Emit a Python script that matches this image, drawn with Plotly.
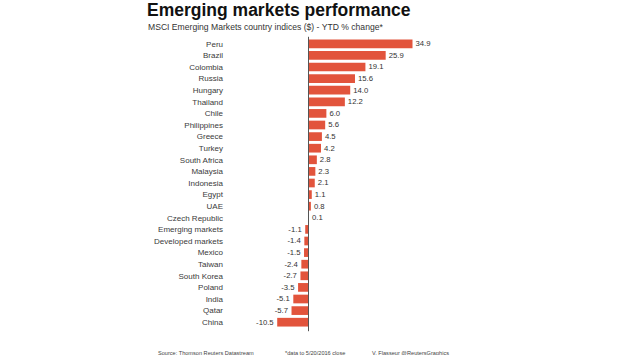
import plotly.graph_objects as go

countries = ["Peru", "Brazil", "Colombia", "Russia", "Hungary", "Thailand", "Chile",
             "Philippines", "Greece", "Turkey", "South Africa", "Malaysia", "Indonesia",
             "Egypt", "UAE", "Czech Republic", "Emerging markets", "Developed markets",
             "Mexico", "Taiwan", "South Korea", "Poland", "India", "Qatar", "China"]
values = [34.9, 25.9, 19.1, 15.6, 14.0, 12.2, 6.0, 5.6, 4.5, 4.2, 2.8, 2.3, 2.1,
          1.1, 0.8, 0.1, -1.1, -1.4, -1.5, -2.4, -2.7, -3.5, -5.1, -5.7, -10.5]
value_labels = ["%.1f" % v for v in values]

title = "Emerging markets performance"
subtitle = "MSCI Emerging Markets country indices ($) - YTD % change*"
footer = ["Source: Thomson Reuters Datastream", "*data to 5/20/2016 close",
          "V. Flasseur @ReutersGraphics"]

W, H = 620, 355
n = len(countries)
row = (322 - 44) / (n - 1)
top_px = 44 - row / 2
bot_px = 322 + row / 2
L = 232
R = 0
T = top_px
B = H - bot_px
zero_px = 308.5
scale = (412.5 - 308.5) / 34.9
xmin = (L - zero_px) / scale
xmax = (W - R - zero_px) / scale

pw = W - L - R
ph = H - T - B


def px(x):
    return (x - L) / pw


def py(y):
    return (H - B - y) / ph


fig = go.Figure(go.Bar(
    x=values, y=countries, orientation="h",
    marker=dict(color="#e2543c", line=dict(width=0)),
    text=value_labels, textposition="outside",
    textfont=dict(size=8, color="#333333", family="Liberation Sans, Arial"),
    cliponaxis=False, hoverinfo="skip",
))

fig.update_layout(
    width=W, height=H,
    margin=dict(l=L, r=R, t=T, b=B, autoexpand=False),
    paper_bgcolor="white", plot_bgcolor="white",
    bargap=0.25, showlegend=False,
    font=dict(family="Liberation Sans, Arial", color="#333333"),
    xaxis=dict(range=[xmin, xmax], visible=False, fixedrange=True),
    yaxis=dict(autorange="reversed", showgrid=False, zeroline=False, showline=False,
               ticks="", ticklabelstandoff=8, automargin=False, fixedrange=True,
               tickfont=dict(size=8, color="#3a3a3a")),
)

fig.add_shape(type="line", xref="x", yref="paper", x0=0, x1=0,
              y0=py(331), y1=py(37), line=dict(color="#555555", width=1))

fig.add_annotation(text="<b>%s</b>" % title, xref="paper", yref="paper",
                   x=px(145), y=py(10.5), xanchor="left", yanchor="middle",
                   showarrow=False, font=dict(size=17.5, color="#111111"))
fig.add_annotation(text=subtitle, xref="paper", yref="paper",
                   x=px(146), y=py(27), xanchor="left", yanchor="middle",
                   showarrow=False, font=dict(size=8.6, color="#333333"))
for txt, xp in zip(footer, [156, 283, 370]):
    fig.add_annotation(text=txt, xref="paper", yref="paper",
                       x=px(xp), y=py(353), xanchor="left", yanchor="middle",
                       showarrow=False, font=dict(size=5.6, color="#444444"))

fig.write_html("out.html", config={"displayModeBar": False},
               post_script="document.body.style.margin='0px';")
